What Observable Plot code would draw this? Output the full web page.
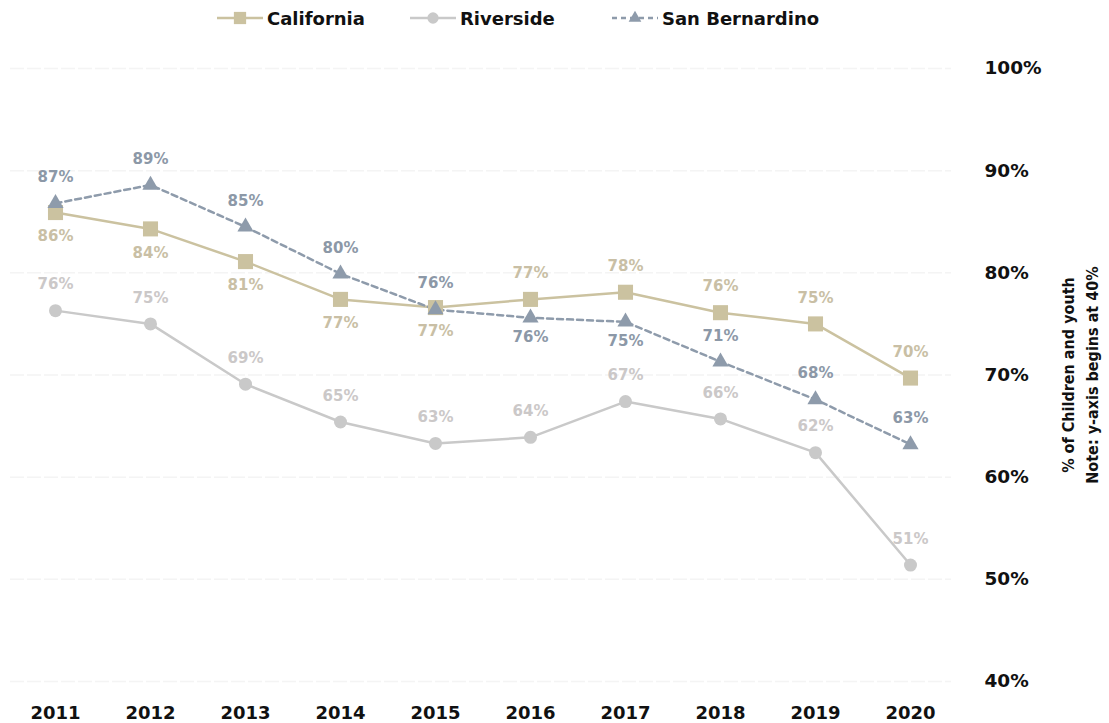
<!DOCTYPE html>
<html>
<head>
<meta charset="utf-8">
<script src="https://cdn.jsdelivr.net/npm/d3@7"></script>
<script src="https://cdn.jsdelivr.net/npm/@observablehq/plot@0.6"></script>
<style>
  html, body { margin: 0; padding: 0; background: #fff; }
  body { width: 1109px; height: 723px; overflow: hidden; font-family: "DejaVu Sans", sans-serif; }
  #legend { position: relative; height: 38px; width: 1109px; }
  .item { position: absolute; top: 7px; display: flex; align-items: center; font-size: 18px; font-weight: bold; color: #111; }
  .item svg { margin-right: 4px; }
</style>
</head>
<body>
<div id="legend"></div>
<div id="chart"></div>
<script>
const years = [2011, 2012, 2013, 2014, 2015, 2016, 2017, 2018, 2019, 2020];
const california = [85.9, 84.3, 81.1, 77.4, 76.6, 77.4, 78.1, 76.1, 75.0, 69.7];
const riverside = [76.3, 75.0, 69.1, 65.4, 63.3, 63.9, 67.4, 65.7, 62.4, 51.4];
const sanBernardino = [86.8, 88.6, 84.5, 79.9, 76.4, 75.6, 75.2, 71.3, 67.6, 63.2];
const seriesNames = ["California", "Riverside", "San Bernardino"];
const yTicks = [40, 50, 60, 70, 80, 90, 100];

const colors = {California: "#cbc2a0", Riverside: "#c9c9c9", "San Bernardino": "#8e9bab"};
const labelColors = {California: "#c9bfa5", Riverside: "#cbc8c8", "San Bernardino": "#8c98a7"};
const symbols = {California: "square", Riverside: "circle", "San Bernardino": "triangle"};
const radii = {California: 8.5, Riverside: 6.5, "San Bernardino": 6};

const rows = [];
[california, riverside, sanBernardino].forEach((vals, i) => {
  vals.forEach((v, j) => rows.push({series: seriesNames[i], year: years[j], value: v}));
});

// label placement (layout only)
const belowLabels = {
  California: new Set([2011, 2012, 2013, 2014, 2015]),
  Riverside: new Set([]),
  "San Bernardino": new Set([2016, 2017])
};
const belowDy = {California: 24, Riverside: 22, "San Bernardino": 19};

const marks = [
  Plot.ruleY(yTicks, {stroke: "#f4f4f4", strokeWidth: 1.5, strokeDasharray: "14,3", insetLeft: -42, insetRight: -38})
];
for (const s of seriesNames) {
  const d = rows.filter(r => r.series === s);
  marks.push(Plot.line(d, {x: "year", y: "value", stroke: colors[s], strokeWidth: 2.5,
    strokeDasharray: s === "San Bernardino" ? "6,4" : null}));
}
for (const s of seriesNames) {
  const d = rows.filter(r => r.series === s);
  marks.push(Plot.dot(d, {x: "year", y: "value", symbol: () => symbols[s], fill: colors[s], r: radii[s], stroke: "none"}));
}
for (const s of seriesNames) {
  const d = rows.filter(r => r.series === s);
  const fmt = r => Math.round(r.value) + "%";
  marks.push(Plot.text(d.filter(r => !belowLabels[s].has(r.year)), {x: "year", y: "value", text: fmt, dy: -26,
    fill: labelColors[s], fontSize: 15, fontWeight: "bold"}));
  marks.push(Plot.text(d.filter(r => belowLabels[s].has(r.year)), {x: "year", y: "value", text: fmt, dy: belowDy[s],
    fill: labelColors[s], fontSize: 15, fontWeight: "bold"}));
}
marks.push(Plot.axisY(yTicks, {anchor: "right", label: null, tickSize: 0, tickPadding: 71, tickFormat: d => d + "%", textAnchor: "start", fontSize: 18.5, fontWeight: "bold", fill: "#111"}));
marks.push(Plot.axisX(years, {anchor: "bottom", label: null, tickSize: 0, tickPadding: 25, tickFormat: d => String(d), fontSize: 18, fontWeight: "bold", fill: "#111"}));
marks.push(Plot.text(["% of Children and youth\nNote: y-axis begins at 40%"], {frameAnchor: "right", textAnchor: "middle", dx: 165, dy: 0, rotate: -90, fontFamily: "DejaVu Sans Condensed, DejaVu Sans", fontSize: 16, fontWeight: "bold", fill: "#111", lineHeight: 1.5}));

const chart = Plot.plot({
  width: 1109,
  height: 685,
  marginTop: 30,
  marginBottom: 42,
  marginLeft: 52,
  marginRight: 196,
  x: {type: "point", domain: years, padding: 0, axis: null},
  y: {domain: [40, 100], axis: null},
  style: {fontFamily: "DejaVu Sans, sans-serif", background: "#fff", overflow: "visible"},
  marks
});
document.getElementById("chart").appendChild(chart);

// legend
const legend = document.getElementById("legend");
const legendLeft = {California: 217, Riverside: 410, "San Bernardino": 612};
for (const s of seriesNames) {
  const item = document.createElement("div");
  item.className = "item";
  item.style.left = legendLeft[s] + "px";
  const sw = d3.create("svg").attr("width", 46).attr("height", 22);
  sw.append("line").attr("x1", 0).attr("x2", 46).attr("y1", 11).attr("y2", 11)
    .attr("stroke", colors[s]).attr("stroke-width", 2.5)
    .attr("stroke-dasharray", s === "San Bernardino" ? "5,4" : null);
  const sym = {square: d3.symbolSquare, circle: d3.symbolCircle, triangle: d3.symbolTriangle}[symbols[s]];
  const sz = {California: 150, Riverside: 100, "San Bernardino": 70}[s];
  sw.append("path").attr("d", d3.symbol(sym, sz)()).attr("transform", "translate(23,11)").attr("fill", colors[s]);
  item.appendChild(sw.node());
  const t = document.createElement("span");
  t.textContent = s;
  item.appendChild(t);
  legend.appendChild(item);
}
</script>
</body>
</html>
